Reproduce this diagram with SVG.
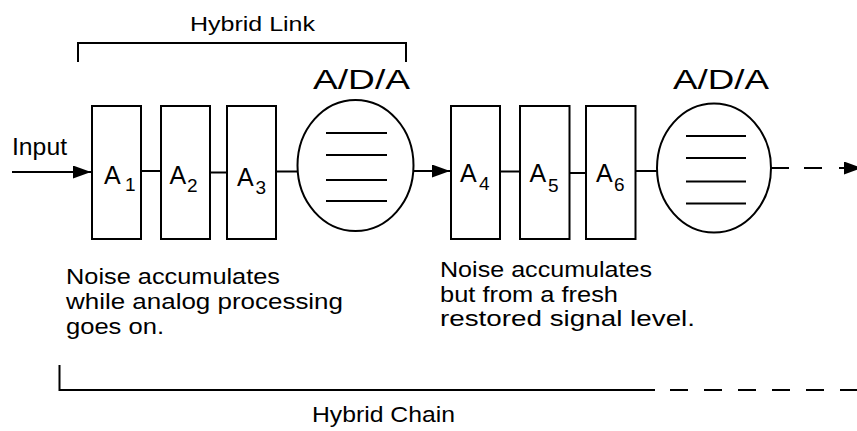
<svg xmlns="http://www.w3.org/2000/svg" width="857" height="431" viewBox="0 0 857 431">
<style>
.ln{stroke:#000;stroke-width:2;fill:none}
.bx{stroke:#000;stroke-width:2;fill:#fff}
.t{font-family:"Liberation Sans",Arial,sans-serif;fill:#000}
</style>
<defs>
<marker id="ah" markerWidth="18" markerHeight="13" refX="18" refY="6.5" orient="auto" markerUnits="userSpaceOnUse">
<path d="M0,0 L18,6.5 L0,13 Z" fill="#000"/>
</marker>
</defs>
<rect width="857" height="431" fill="#fff"/>
<g id="connectors">
<line class="ln" x1="12" y1="172" x2="91" y2="172" marker-end="url(#ah)"/>
<line class="ln" x1="141" y1="171" x2="161" y2="171"/>
<line class="ln" x1="210" y1="172.5" x2="227" y2="172.5"/>
<line class="ln" x1="276" y1="171.5" x2="298" y2="171.5"/>
<line class="ln" x1="413" y1="171" x2="450" y2="171" marker-end="url(#ah)"/>
<line class="ln" x1="500" y1="171.5" x2="520" y2="171.5"/>
<line class="ln" x1="569.5" y1="173" x2="586" y2="173"/>
<line class="ln" x1="635.5" y1="171" x2="657.5" y2="171"/>
<line class="ln" x1="771" y1="168" x2="789" y2="168"/>
<line class="ln" x1="804" y1="168" x2="822" y2="168"/>
<line class="ln" x1="839" y1="168" x2="862" y2="168" marker-end="url(#ah)"/>
</g>
<g id="hybrid-link">
<polyline class="ln" points="78,62 78,43 406,43 406,62"/>
<text class="t" x="190" y="31" font-size="21" textLength="125" lengthAdjust="spacingAndGlyphs">Hybrid Link</text>
</g>
<g id="input"><text class="t" x="12" y="155" font-size="23" textLength="55" lengthAdjust="spacingAndGlyphs">Input</text></g>
<g id="A1"><rect class="bx" x="92" y="106" width="49" height="133"/><text class="t" x="104" y="184" font-size="25">A</text><text class="t" x="125" y="190.5" font-size="19">1</text></g>
<g id="A2"><rect class="bx" x="161" y="106" width="49" height="133"/><text class="t" x="169.5" y="183.5" font-size="25">A</text><text class="t" x="187" y="191.5" font-size="19">2</text></g>
<g id="A3"><rect class="bx" x="227" y="106" width="49" height="133"/><text class="t" x="237" y="185.5" font-size="25">A</text><text class="t" x="255.5" y="194" font-size="19">3</text></g>
<g id="ADA1">
<ellipse class="bx" cx="355.5" cy="165.5" rx="58" ry="65.5"/>
<line class="ln" x1="326" y1="133" x2="387" y2="133"/>
<line class="ln" x1="326" y1="155" x2="387" y2="155"/>
<line class="ln" x1="326" y1="180" x2="387" y2="180"/>
<line class="ln" x1="326" y1="201" x2="387" y2="201"/>
<text class="t" x="313" y="89" font-size="27" textLength="97" lengthAdjust="spacingAndGlyphs">A/D/A</text>
</g>
<g id="A4"><rect class="bx" x="451" y="106" width="49" height="133"/><text class="t" x="460" y="182" font-size="25">A</text><text class="t" x="479" y="190" font-size="19">4</text></g>
<g id="A5"><rect class="bx" x="520" y="106" width="49.5" height="133"/><text class="t" x="529.5" y="182" font-size="25">A</text><text class="t" x="548" y="191.5" font-size="19">5</text></g>
<g id="A6"><rect class="bx" x="586" y="106" width="49.5" height="133"/><text class="t" x="596" y="182" font-size="25">A</text><text class="t" x="614" y="190.5" font-size="19">6</text></g>
<g id="ADA2">
<ellipse class="bx" cx="714" cy="168" rx="57" ry="64.5"/>
<line class="ln" x1="686" y1="136" x2="746" y2="136"/>
<line class="ln" x1="686" y1="158" x2="746" y2="158"/>
<line class="ln" x1="686" y1="181.5" x2="746" y2="181.5"/>
<line class="ln" x1="686" y1="203.5" x2="746" y2="203.5"/>
<text class="t" x="673" y="89" font-size="27" textLength="96" lengthAdjust="spacingAndGlyphs">A/D/A</text>
</g>
<g id="note-left" class="t" font-size="21.5">
<text x="66" y="284" textLength="214" lengthAdjust="spacingAndGlyphs">Noise accumulates</text>
<text x="66" y="309" textLength="277" lengthAdjust="spacingAndGlyphs">while analog processing</text>
<text x="66" y="334" textLength="98" lengthAdjust="spacingAndGlyphs">goes on.</text>
</g>
<g id="note-right" class="t" font-size="21.5">
<text x="440" y="277" textLength="212" lengthAdjust="spacingAndGlyphs">Noise accumulates</text>
<text x="440" y="302" textLength="178" lengthAdjust="spacingAndGlyphs">but from a fresh</text>
<text x="440" y="326" textLength="255" lengthAdjust="spacingAndGlyphs">restored signal level.</text>
</g>
<g id="hybrid-chain">
<polyline class="ln" points="59.5,365 59.5,390 655,390"/>
<line class="ln" x1="670" y1="390" x2="857" y2="390" stroke-dasharray="18,16"/>
<text class="t" x="312" y="422" font-size="22" textLength="143" lengthAdjust="spacingAndGlyphs">Hybrid Chain</text>
</g>
</svg>
